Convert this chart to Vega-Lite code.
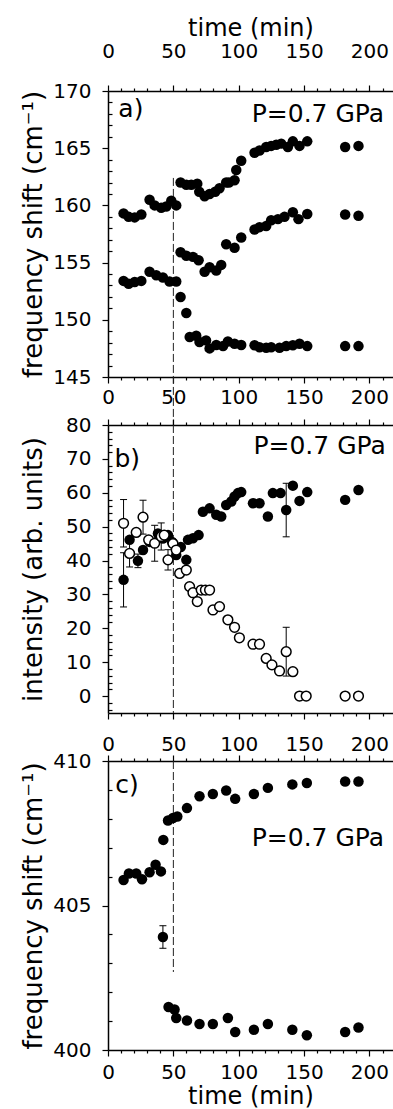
{
  "$schema": "https://vega.github.io/schema/vega-lite/v6.json",
  "padding": {"left": 19, "top": 16, "right": 0, "bottom": 0},
  "background": "white",
  "config": {
    "font": "DejaVu Sans",
    "view": {"stroke": null},
    "axis": {"domainColor": "black", "domainWidth": 1.5, "tickColor": "black", "tickWidth": 1.2, "labelColor": "black", "labelFont": "DejaVu Sans", "labelFontSize": 20, "titleFont": "DejaVu Sans", "titleFontSize": 24, "titleFontWeight": "normal", "titleColor": "black", "grid": false, "labelFlush": false, "labelOverlap": false},
    "text": {"font": "DejaVu Sans", "fontSize": 25, "color": "black"}
  },
  "datasets": {
    "pa": [
      {"s": "top", "t": 11.9, "v": 159.3}, {"s": "top", "t": 15.8, "v": 159.0}, {"s": "top", "t": 20.4, "v": 158.95}, {"s": "top", "t": 25.5, "v": 159.2},
      {"s": "top", "t": 31.8, "v": 160.5}, {"s": "top", "t": 35.7, "v": 160.0}, {"s": "top", "t": 40.7, "v": 159.8}, {"s": "top", "t": 44.5, "v": 159.9},
      {"s": "top", "t": 48.4, "v": 160.4}, {"s": "top", "t": 52.2, "v": 160.0}, {"s": "top", "t": 55.5, "v": 162.0}, {"s": "top", "t": 59.9, "v": 161.8},
      {"s": "top", "t": 63.7, "v": 161.8}, {"s": "top", "t": 68.3, "v": 161.9}, {"s": "top", "t": 69.8, "v": 161.2}, {"s": "top", "t": 73.9, "v": 160.8},
      {"s": "top", "t": 77.7, "v": 161.0}, {"s": "top", "t": 82.0, "v": 161.2}, {"s": "top", "t": 85.3, "v": 161.5}, {"s": "top", "t": 90.4, "v": 162.0},
      {"s": "top", "t": 92.5, "v": 162.0}, {"s": "top", "t": 96.8, "v": 162.2}, {"s": "top", "t": 98.1, "v": 163.1}, {"s": "top", "t": 101.9, "v": 163.9},
      {"s": "top", "t": 112.1, "v": 164.6}, {"s": "top", "t": 115.9, "v": 164.8}, {"s": "top", "t": 121.0, "v": 165.1}, {"s": "top", "t": 124.8, "v": 165.2},
      {"s": "top", "t": 128.7, "v": 165.3}, {"s": "top", "t": 132.5, "v": 165.4}, {"s": "top", "t": 137.6, "v": 165.1}, {"s": "top", "t": 141.4, "v": 165.6},
      {"s": "top", "t": 146.5, "v": 165.2}, {"s": "top", "t": 152.4, "v": 165.6}, {"s": "top", "t": 181.4, "v": 165.1}, {"s": "top", "t": 191.6, "v": 165.2},
      {"s": "mid", "t": 11.9, "v": 153.4}, {"s": "mid", "t": 15.8, "v": 153.15}, {"s": "mid", "t": 20.4, "v": 153.3}, {"s": "mid", "t": 25.5, "v": 153.4},
      {"s": "mid", "t": 31.8, "v": 154.2}, {"s": "mid", "t": 36.9, "v": 153.9}, {"s": "mid", "t": 42.0, "v": 153.7}, {"s": "mid", "t": 47.1, "v": 153.35},
      {"s": "mid", "t": 52.2, "v": 153.35}, {"s": "mid", "t": 55.5, "v": 155.9}, {"s": "mid", "t": 59.9, "v": 155.6}, {"s": "mid", "t": 65.0, "v": 155.5},
      {"s": "mid", "t": 69.3, "v": 155.2}, {"s": "mid", "t": 73.9, "v": 154.2}, {"s": "mid", "t": 77.7, "v": 154.6}, {"s": "mid", "t": 82.8, "v": 154.3},
      {"s": "mid", "t": 86.6, "v": 154.8}, {"s": "mid", "t": 90.4, "v": 156.6}, {"s": "mid", "t": 96.8, "v": 156.3}, {"s": "mid", "t": 101.9, "v": 157.2},
      {"s": "mid", "t": 112.1, "v": 157.9}, {"s": "mid", "t": 115.9, "v": 158.1}, {"s": "mid", "t": 121.0, "v": 158.2}, {"s": "mid", "t": 124.8, "v": 158.7},
      {"s": "mid", "t": 130.0, "v": 158.8}, {"s": "mid", "t": 135.0, "v": 159.0}, {"s": "mid", "t": 141.4, "v": 159.4}, {"s": "mid", "t": 145.7, "v": 158.8},
      {"s": "mid", "t": 152.4, "v": 159.25}, {"s": "mid", "t": 181.4, "v": 159.2}, {"s": "mid", "t": 191.6, "v": 159.1},
      {"s": "low", "t": 55.5, "v": 152.0}, {"s": "low", "t": 59.9, "v": 150.6}, {"s": "low", "t": 62.5, "v": 148.5}, {"s": "low", "t": 67.5, "v": 148.6},
      {"s": "low", "t": 70.0, "v": 148.05}, {"s": "low", "t": 75.0, "v": 148.2}, {"s": "low", "t": 77.7, "v": 147.5}, {"s": "low", "t": 82.8, "v": 147.8},
      {"s": "low", "t": 88.0, "v": 147.7}, {"s": "low", "t": 91.7, "v": 148.1}, {"s": "low", "t": 96.8, "v": 147.9}, {"s": "low", "t": 101.9, "v": 147.8},
      {"s": "low", "t": 112.1, "v": 147.77}, {"s": "low", "t": 115.9, "v": 147.6}, {"s": "low", "t": 121.0, "v": 147.55}, {"s": "low", "t": 124.8, "v": 147.6},
      {"s": "low", "t": 131.2, "v": 147.55}, {"s": "low", "t": 136.3, "v": 147.7}, {"s": "low", "t": 141.4, "v": 147.77}, {"s": "low", "t": 146.5, "v": 147.9},
      {"s": "low", "t": 152.4, "v": 147.7}, {"s": "low", "t": 181.4, "v": 147.7}, {"s": "low", "t": 191.6, "v": 147.7}
    ],
    "bf": [
      {"t": 11.9, "v": 34.3}, {"t": 16.5, "v": 46.1}, {"t": 22.9, "v": 39.9}, {"t": 26.8, "v": 43.1}, {"t": 31.8, "v": 45.5},
      {"t": 38.2, "v": 48.0}, {"t": 42.0, "v": 46.5}, {"t": 45.9, "v": 47.5}, {"t": 49.0, "v": 45.5}, {"t": 52.2, "v": 41.6},
      {"t": 55.7, "v": 44.0}, {"t": 59.9, "v": 40.2}, {"t": 61.2, "v": 46.1}, {"t": 65.0, "v": 46.6}, {"t": 69.3, "v": 47.5},
      {"t": 72.6, "v": 54.4}, {"t": 77.7, "v": 55.4}, {"t": 82.8, "v": 53.5}, {"t": 86.6, "v": 53.0}, {"t": 90.4, "v": 56.4},
      {"t": 94.3, "v": 57.4}, {"t": 96.8, "v": 58.9}, {"t": 99.4, "v": 59.9}, {"t": 101.9, "v": 60.2}, {"t": 110.9, "v": 56.9},
      {"t": 115.9, "v": 56.9}, {"t": 122.3, "v": 53.0}, {"t": 126.1, "v": 59.9}, {"t": 132.0, "v": 59.9}, {"t": 136.3, "v": 54.9},
      {"t": 141.4, "v": 62.1}, {"t": 146.5, "v": 57.6}, {"t": 152.4, "v": 60.2}, {"t": 181.4, "v": 57.9}, {"t": 191.6, "v": 60.8}
    ],
    "bo": [
      {"t": 11.9, "v": 51.0}, {"t": 16.5, "v": 42.1}, {"t": 21.6, "v": 48.3}, {"t": 26.8, "v": 52.8}, {"t": 31.1, "v": 46.1},
      {"t": 35.7, "v": 45.1}, {"t": 40.7, "v": 47.1}, {"t": 43.0, "v": 47.5}, {"t": 45.9, "v": 40.2}, {"t": 49.7, "v": 45.0},
      {"t": 52.2, "v": 43.1}, {"t": 54.8, "v": 36.2}, {"t": 59.9, "v": 37.2}, {"t": 62.4, "v": 32.3}, {"t": 65.0, "v": 30.5},
      {"t": 68.3, "v": 27.9}, {"t": 71.3, "v": 31.3}, {"t": 74.5, "v": 31.3}, {"t": 77.7, "v": 31.3}, {"t": 80.3, "v": 25.4},
      {"t": 85.3, "v": 26.4}, {"t": 91.7, "v": 22.5}, {"t": 96.8, "v": 20.3}, {"t": 100.5, "v": 17.2}, {"t": 110.9, "v": 15.3},
      {"t": 115.9, "v": 15.3}, {"t": 121.0, "v": 11.1}, {"t": 125.4, "v": 9.2}, {"t": 131.2, "v": 7.4}, {"t": 136.3, "v": 13.1},
      {"t": 141.4, "v": 7.2}, {"t": 146.5, "v": 0.0}, {"t": 151.6, "v": 0.0}, {"t": 181.4, "v": 0.0}, {"t": 191.6, "v": 0.0}
    ],
    "berr": [
      {"t": 11.9, "lo": 44.0, "hi": 58.0}, {"t": 11.9, "lo": 26.3, "hi": 42.3}, {"t": 16.5, "lo": 38.1, "hi": 46.1},
      {"t": 22.9, "lo": 37.9, "hi": 41.9}, {"t": 26.8, "lo": 47.8, "hi": 57.8}, {"t": 35.7, "lo": 39.8, "hi": 50.4},
      {"t": 40.7, "lo": 43.1, "hi": 51.1}, {"t": 45.9, "lo": 37.2, "hi": 43.2}, {"t": 136.3, "lo": 5.9, "hi": 20.3},
      {"t": 136.3, "lo": 47.0, "hi": 62.8}
    ],
    "cu": [
      {"t": 11.9, "v": 405.88}, {"t": 16.0, "v": 406.11}, {"t": 21.6, "v": 406.11}, {"t": 26.0, "v": 405.91}, {"t": 31.8, "v": 406.15},
      {"t": 36.4, "v": 406.41}, {"t": 40.5, "v": 406.18}, {"t": 42.3, "v": 407.27}, {"t": 45.9, "v": 407.94}, {"t": 49.7, "v": 408.03},
      {"t": 53.0, "v": 408.08}, {"t": 60.4, "v": 408.37}, {"t": 70.0, "v": 408.78}, {"t": 80.2, "v": 408.86}, {"t": 90.4, "v": 408.98},
      {"t": 97.3, "v": 408.69}, {"t": 111.6, "v": 408.86}, {"t": 122.3, "v": 409.07}, {"t": 141.0, "v": 409.19}, {"t": 152.1, "v": 409.24},
      {"t": 181.4, "v": 409.29}, {"t": 191.6, "v": 409.29},
      {"t": 42.0, "v": 403.91},
      {"t": 46.3, "v": 401.49}, {"t": 50.9, "v": 401.4}, {"t": 52.2, "v": 401.11}, {"t": 60.4, "v": 401.02}, {"t": 70.0, "v": 400.9},
      {"t": 80.2, "v": 400.9}, {"t": 91.7, "v": 401.11}, {"t": 97.3, "v": 400.62}, {"t": 111.6, "v": 400.7}, {"t": 122.3, "v": 400.9},
      {"t": 141.0, "v": 400.7}, {"t": 152.1, "v": 400.51}, {"t": 181.4, "v": 400.62}, {"t": 191.6, "v": 400.78}
    ],
    "cerr": [{"t": 42.0, "lo": 403.52, "hi": 404.3}]
  },
  "vconcat": [
    {
      "width": 285, "height": 286,
      "layer": [
        {
          "data": {"values": [{"t": 50, "y1": 162.4, "y2": 140.8}]},
          "mark": {"type": "rule", "strokeDash": [8, 3], "strokeWidth": 1, "color": "#222"},
          "encoding": {
            "x": {"field": "t", "type": "quantitative", "scale": {"domain": [0, 218], "nice": false, "zero": false},
              "axis": {"orient": "bottom", "values": [0,10,20,30,40,50,60,70,80,90,100,110,120,130,140,150,160,170,180,190,200,210], "labelExpr": "datum.value % 50 === 0 ? datum.label : ''", "labelOverlap": false, "tickSize": {"condition": {"test": "datum.value % 50 === 0", "value": 6}, "value": 3}, "labelPadding": 4, "title": null}},
            "y": {"field": "y1", "type": "quantitative", "scale": {"domain": [145, 170], "nice": false, "zero": false},
              "axis": {"orient": "left", "values": [145,146,147,148,149,150,151,152,153,154,155,156,157,158,159,160,161,162,163,164,165,166,167,168,169,170], "labelExpr": "datum.value % 5 === 0 ? datum.label : ''", "labelOverlap": false, "tickSize": {"condition": {"test": "datum.value % 5 === 0", "value": 6}, "value": -4}, "labelPadding": 11, "title": "frequency shift (cm⁻¹)", "titleFontSize": 26, "titleX": -62, "titleY": 143}},
            "y2": {"field": "y2"}
          }
        },
        {
          "data": {"name": "pa"},
          "mark": {"type": "point", "filled": true, "size": 110, "color": "black", "opacity": 1},
          "encoding": {
            "x": {"field": "t", "type": "quantitative", "scale": {"domain": [0, 218], "nice": false, "zero": false},
              "axis": {"orient": "top", "values": [0,10,20,30,40,50,60,70,80,90,100,110,120,130,140,150,160,170,180,190,200,210], "labelExpr": "datum.value % 50 === 0 ? datum.label : ''", "labelOverlap": false, "tickSize": {"condition": {"test": "datum.value % 50 === 0", "value": 6}, "value": 3}, "labelPadding": 24, "title": "time (min)", "titlePadding": 1}},
            "y": {"field": "v", "type": "quantitative", "scale": {"domain": [145, 170], "nice": false, "zero": false},
              "axis": {"orient": "left", "values": [145,146,147,148,149,150,151,152,153,154,155,156,157,158,159,160,161,162,163,164,165,166,167,168,169,170], "labelExpr": "datum.value % 5 === 0 ? datum.label : ''", "labelOverlap": false, "tickSize": {"condition": {"test": "datum.value % 5 === 0", "value": 6}, "value": -4}, "labelPadding": 11, "title": "frequency shift (cm⁻¹)", "titleFontSize": 26, "titleX": -62, "titleY": 143}}
          }
        },
        {
          "data": {"values": [{"t": 7.9, "v": 168.4, "label": "a)"}]},
          "mark": {"type": "text", "align": "left", "baseline": "middle"},
          "encoding": {
            "x": {"field": "t", "type": "quantitative", "scale": {"domain": [0, 218], "nice": false, "zero": false}, "axis": null},
            "y": {"field": "v", "type": "quantitative", "scale": {"domain": [145, 170], "nice": false, "zero": false},
              "axis": {"orient": "left", "values": [145,146,147,148,149,150,151,152,153,154,155,156,157,158,159,160,161,162,163,164,165,166,167,168,169,170], "labelExpr": "datum.value % 5 === 0 ? datum.label : ''", "labelOverlap": false, "tickSize": {"condition": {"test": "datum.value % 5 === 0", "value": 6}, "value": -4}, "labelPadding": 11, "title": "frequency shift (cm⁻¹)", "titleFontSize": 26, "titleX": -62, "titleY": 143}},
            "text": {"field": "label"}
          }
        },
        {
          "data": {"values": [{"t": 211.2, "v": 168.0, "label": "P=0.7 GPa"}]},
          "mark": {"type": "text", "align": "right", "baseline": "middle"},
          "encoding": {
            "x": {"field": "t", "type": "quantitative", "scale": {"domain": [0, 218], "nice": false, "zero": false}, "axis": null},
            "y": {"field": "v", "type": "quantitative", "scale": {"domain": [145, 170], "nice": false, "zero": false},
              "axis": {"orient": "left", "values": [145,146,147,148,149,150,151,152,153,154,155,156,157,158,159,160,161,162,163,164,165,166,167,168,169,170], "labelExpr": "datum.value % 5 === 0 ? datum.label : ''", "labelOverlap": false, "tickSize": {"condition": {"test": "datum.value % 5 === 0", "value": 6}, "value": -4}, "labelPadding": 11, "title": "frequency shift (cm⁻¹)", "titleFontSize": 26, "titleX": -62, "titleY": 143}},
            "text": {"field": "label"}
          }
        }
      ]
    },
    {
      "width": 285, "height": 288,
      "layer": [
        {
          "data": {"values": [{"t": 50, "y1": 80, "y2": -5}]},
          "mark": {"type": "rule", "strokeDash": [8, 3], "strokeWidth": 1, "color": "#222"},
          "encoding": {
            "x": {"field": "t", "type": "quantitative", "scale": {"domain": [0, 218], "nice": false, "zero": false},
              "axis": {"orient": "bottom", "values": [0,10,20,30,40,50,60,70,80,90,100,110,120,130,140,150,160,170,180,190,200,210], "labelExpr": "datum.value % 50 === 0 ? datum.label : ''", "labelOverlap": false, "tickSize": {"condition": {"test": "datum.value % 50 === 0", "value": 6}, "value": 3}, "labelPadding": 15, "title": null}},
            "y": {"field": "y1", "type": "quantitative", "scale": {"domain": [-5, 80], "nice": false, "zero": false},
              "axis": {"orient": "left", "values": [-4,-2,0,2,4,6,8,10,12,14,16,18,20,22,24,26,28,30,32,34,36,38,40,42,44,46,48,50,52,54,56,58,60,62,64,66,68,70,72,74,76,78,80], "labelExpr": "datum.value % 10 === 0 ? datum.label : ''", "labelOverlap": false, "tickSize": {"condition": {"test": "datum.value % 10 === 0", "value": 6}, "value": -4}, "labelPadding": 11, "title": "intensity (arb. units)", "titleFontSize": 26, "titleX": -62, "titleY": 144}},
            "y2": {"field": "y2"}
          }
        },
        {
          "data": {"name": "berr"},
          "mark": {"type": "rule", "strokeWidth": 1, "color": "black"},
          "encoding": {
            "x": {"field": "t", "type": "quantitative", "scale": {"domain": [0, 218], "nice": false, "zero": false}, "axis": null},
            "y": {"field": "lo", "type": "quantitative", "scale": {"domain": [-5, 80], "nice": false, "zero": false},
              "axis": {"orient": "left", "values": [-4,-2,0,2,4,6,8,10,12,14,16,18,20,22,24,26,28,30,32,34,36,38,40,42,44,46,48,50,52,54,56,58,60,62,64,66,68,70,72,74,76,78,80], "labelExpr": "datum.value % 10 === 0 ? datum.label : ''", "labelOverlap": false, "tickSize": {"condition": {"test": "datum.value % 10 === 0", "value": 6}, "value": -4}, "labelPadding": 11, "title": "intensity (arb. units)", "titleFontSize": 26, "titleX": -62, "titleY": 144}},
            "y2": {"field": "hi"}
          }
        },
        {
          "data": {"name": "berr"},
          "mark": {"type": "tick", "orient": "horizontal", "size": 7, "thickness": 1, "color": "black", "opacity": 1},
          "encoding": {
            "x": {"field": "t", "type": "quantitative", "scale": {"domain": [0, 218], "nice": false, "zero": false}, "axis": null},
            "y": {"field": "lo", "type": "quantitative", "scale": {"domain": [-5, 80], "nice": false, "zero": false},
              "axis": {"orient": "left", "values": [-4,-2,0,2,4,6,8,10,12,14,16,18,20,22,24,26,28,30,32,34,36,38,40,42,44,46,48,50,52,54,56,58,60,62,64,66,68,70,72,74,76,78,80], "labelExpr": "datum.value % 10 === 0 ? datum.label : ''", "labelOverlap": false, "tickSize": {"condition": {"test": "datum.value % 10 === 0", "value": 6}, "value": -4}, "labelPadding": 11, "title": "intensity (arb. units)", "titleFontSize": 26, "titleX": -62, "titleY": 144}}
          }
        },
        {
          "data": {"name": "berr"},
          "mark": {"type": "tick", "orient": "horizontal", "size": 7, "thickness": 1, "color": "black", "opacity": 1},
          "encoding": {
            "x": {"field": "t", "type": "quantitative", "scale": {"domain": [0, 218], "nice": false, "zero": false}, "axis": null},
            "y": {"field": "hi", "type": "quantitative", "scale": {"domain": [-5, 80], "nice": false, "zero": false},
              "axis": {"orient": "left", "values": [-4,-2,0,2,4,6,8,10,12,14,16,18,20,22,24,26,28,30,32,34,36,38,40,42,44,46,48,50,52,54,56,58,60,62,64,66,68,70,72,74,76,78,80], "labelExpr": "datum.value % 10 === 0 ? datum.label : ''", "labelOverlap": false, "tickSize": {"condition": {"test": "datum.value % 10 === 0", "value": 6}, "value": -4}, "labelPadding": 11, "title": "intensity (arb. units)", "titleFontSize": 26, "titleX": -62, "titleY": 144}}
          }
        },
        {
          "data": {"name": "bf"},
          "mark": {"type": "point", "filled": true, "size": 110, "color": "black", "opacity": 1},
          "encoding": {
            "x": {"field": "t", "type": "quantitative", "scale": {"domain": [0, 218], "nice": false, "zero": false},
              "axis": {"orient": "top", "values": [0,10,20,30,40,50,60,70,80,90,100,110,120,130,140,150,160,170,180,190,200,210], "labels": false, "tickSize": {"condition": {"test": "datum.value % 50 === 0", "value": 6}, "value": 3}, "title": null}},
            "y": {"field": "v", "type": "quantitative", "scale": {"domain": [-5, 80], "nice": false, "zero": false},
              "axis": {"orient": "left", "values": [-4,-2,0,2,4,6,8,10,12,14,16,18,20,22,24,26,28,30,32,34,36,38,40,42,44,46,48,50,52,54,56,58,60,62,64,66,68,70,72,74,76,78,80], "labelExpr": "datum.value % 10 === 0 ? datum.label : ''", "labelOverlap": false, "tickSize": {"condition": {"test": "datum.value % 10 === 0", "value": 6}, "value": -4}, "labelPadding": 11, "title": "intensity (arb. units)", "titleFontSize": 26, "titleX": -62, "titleY": 144}}
          }
        },
        {
          "data": {"name": "bo"},
          "mark": {"type": "point", "filled": true, "size": 95, "fill": "white", "stroke": "black", "strokeWidth": 1.5, "opacity": 1},
          "encoding": {
            "x": {"field": "t", "type": "quantitative", "scale": {"domain": [0, 218], "nice": false, "zero": false}, "axis": null},
            "y": {"field": "v", "type": "quantitative", "scale": {"domain": [-5, 80], "nice": false, "zero": false},
              "axis": {"orient": "left", "values": [-4,-2,0,2,4,6,8,10,12,14,16,18,20,22,24,26,28,30,32,34,36,38,40,42,44,46,48,50,52,54,56,58,60,62,64,66,68,70,72,74,76,78,80], "labelExpr": "datum.value % 10 === 0 ? datum.label : ''", "labelOverlap": false, "tickSize": {"condition": {"test": "datum.value % 10 === 0", "value": 6}, "value": -4}, "labelPadding": 11, "title": "intensity (arb. units)", "titleFontSize": 26, "titleX": -62, "titleY": 144}}
          }
        },
        {
          "data": {"values": [{"t": 4.9, "v": 69.9, "label": "b)"}]},
          "mark": {"type": "text", "align": "left", "baseline": "middle"},
          "encoding": {
            "x": {"field": "t", "type": "quantitative", "scale": {"domain": [0, 218], "nice": false, "zero": false}, "axis": null},
            "y": {"field": "v", "type": "quantitative", "scale": {"domain": [-5, 80], "nice": false, "zero": false},
              "axis": {"orient": "left", "values": [-4,-2,0,2,4,6,8,10,12,14,16,18,20,22,24,26,28,30,32,34,36,38,40,42,44,46,48,50,52,54,56,58,60,62,64,66,68,70,72,74,76,78,80], "labelExpr": "datum.value % 10 === 0 ? datum.label : ''", "labelOverlap": false, "tickSize": {"condition": {"test": "datum.value % 10 === 0", "value": 6}, "value": -4}, "labelPadding": 11, "title": "intensity (arb. units)", "titleFontSize": 26, "titleX": -62, "titleY": 144}},
            "text": {"field": "label"}
          }
        },
        {
          "data": {"values": [{"t": 212.5, "v": 73.7, "label": "P=0.7 GPa"}]},
          "mark": {"type": "text", "align": "right", "baseline": "middle"},
          "encoding": {
            "x": {"field": "t", "type": "quantitative", "scale": {"domain": [0, 218], "nice": false, "zero": false}, "axis": null},
            "y": {"field": "v", "type": "quantitative", "scale": {"domain": [-5, 80], "nice": false, "zero": false},
              "axis": {"orient": "left", "values": [-4,-2,0,2,4,6,8,10,12,14,16,18,20,22,24,26,28,30,32,34,36,38,40,42,44,46,48,50,52,54,56,58,60,62,64,66,68,70,72,74,76,78,80], "labelExpr": "datum.value % 10 === 0 ? datum.label : ''", "labelOverlap": false, "tickSize": {"condition": {"test": "datum.value % 10 === 0", "value": 6}, "value": -4}, "labelPadding": 11, "title": "intensity (arb. units)", "titleFontSize": 26, "titleX": -62, "titleY": 144}},
            "text": {"field": "label"}
          }
        }
      ],
      "resolve": {"axis": {"x": "independent"}}
    },
    {
      "width": 285, "height": 289,
      "layer": [
        {
          "data": {"values": [{"t": 50, "y1": 410, "y2": 402.7}]},
          "mark": {"type": "rule", "strokeDash": [8, 3], "strokeWidth": 1, "color": "#222"},
          "encoding": {
            "x": {"field": "t", "type": "quantitative", "scale": {"domain": [0, 218], "nice": false, "zero": false},
              "axis": {"orient": "bottom", "values": [0,10,20,30,40,50,60,70,80,90,100,110,120,130,140,150,160,170,180,190,200,210], "labelExpr": "datum.value % 50 === 0 ? datum.label : ''", "labelOverlap": false, "tickSize": {"condition": {"test": "datum.value % 50 === 0", "value": 6}, "value": 3}, "labelPadding": 6, "title": "time (min)", "titlePadding": 2}},
            "y": {"field": "y1", "type": "quantitative", "scale": {"domain": [400, 410], "nice": false, "zero": false},
              "axis": {"orient": "left", "values": [400,401,402,403,404,405,406,407,408,409,410], "labelExpr": "datum.value % 5 === 0 ? datum.label : ''", "labelOverlap": false, "tickSize": {"condition": {"test": "datum.value % 5 === 0", "value": 6}, "value": -4}, "labelPadding": 11, "title": "frequency shift (cm⁻¹)", "titleFontSize": 26, "titleX": -62, "titleY": 144.5}},
            "y2": {"field": "y2"}
          }
        },
        {
          "data": {"name": "cerr"},
          "mark": {"type": "rule", "strokeWidth": 1, "color": "black"},
          "encoding": {
            "x": {"field": "t", "type": "quantitative", "scale": {"domain": [0, 218], "nice": false, "zero": false}, "axis": null},
            "y": {"field": "lo", "type": "quantitative", "scale": {"domain": [400, 410], "nice": false, "zero": false},
              "axis": {"orient": "left", "values": [400,401,402,403,404,405,406,407,408,409,410], "labelExpr": "datum.value % 5 === 0 ? datum.label : ''", "labelOverlap": false, "tickSize": {"condition": {"test": "datum.value % 5 === 0", "value": 6}, "value": -4}, "labelPadding": 11, "title": "frequency shift (cm⁻¹)", "titleFontSize": 26, "titleX": -62, "titleY": 144.5}},
            "y2": {"field": "hi"}
          }
        },
        {
          "data": {"name": "cerr"},
          "mark": {"type": "tick", "orient": "horizontal", "size": 7, "thickness": 1, "color": "black", "opacity": 1},
          "encoding": {
            "x": {"field": "t", "type": "quantitative", "scale": {"domain": [0, 218], "nice": false, "zero": false}, "axis": null},
            "y": {"field": "lo", "type": "quantitative", "scale": {"domain": [400, 410], "nice": false, "zero": false},
              "axis": {"orient": "left", "values": [400,401,402,403,404,405,406,407,408,409,410], "labelExpr": "datum.value % 5 === 0 ? datum.label : ''", "labelOverlap": false, "tickSize": {"condition": {"test": "datum.value % 5 === 0", "value": 6}, "value": -4}, "labelPadding": 11, "title": "frequency shift (cm⁻¹)", "titleFontSize": 26, "titleX": -62, "titleY": 144.5}}
          }
        },
        {
          "data": {"name": "cerr"},
          "mark": {"type": "tick", "orient": "horizontal", "size": 7, "thickness": 1, "color": "black", "opacity": 1},
          "encoding": {
            "x": {"field": "t", "type": "quantitative", "scale": {"domain": [0, 218], "nice": false, "zero": false}, "axis": null},
            "y": {"field": "hi", "type": "quantitative", "scale": {"domain": [400, 410], "nice": false, "zero": false},
              "axis": {"orient": "left", "values": [400,401,402,403,404,405,406,407,408,409,410], "labelExpr": "datum.value % 5 === 0 ? datum.label : ''", "labelOverlap": false, "tickSize": {"condition": {"test": "datum.value % 5 === 0", "value": 6}, "value": -4}, "labelPadding": 11, "title": "frequency shift (cm⁻¹)", "titleFontSize": 26, "titleX": -62, "titleY": 144.5}}
          }
        },
        {
          "data": {"name": "cu"},
          "mark": {"type": "point", "filled": true, "size": 110, "color": "black", "opacity": 1},
          "encoding": {
            "x": {"field": "t", "type": "quantitative", "scale": {"domain": [0, 218], "nice": false, "zero": false},
              "axis": {"orient": "top", "values": [0,10,20,30,40,50,60,70,80,90,100,110,120,130,140,150,160,170,180,190,200,210], "labels": false, "tickSize": {"condition": {"test": "datum.value % 50 === 0", "value": 6}, "value": 3}, "title": null}},
            "y": {"field": "v", "type": "quantitative", "scale": {"domain": [400, 410], "nice": false, "zero": false},
              "axis": {"orient": "left", "values": [400,401,402,403,404,405,406,407,408,409,410], "labelExpr": "datum.value % 5 === 0 ? datum.label : ''", "labelOverlap": false, "tickSize": {"condition": {"test": "datum.value % 5 === 0", "value": 6}, "value": -4}, "labelPadding": 11, "title": "frequency shift (cm⁻¹)", "titleFontSize": 26, "titleX": -62, "titleY": 144.5}}
          }
        },
        {
          "data": {"values": [{"t": 5.6, "v": 409.16, "label": "c)"}]},
          "mark": {"type": "text", "align": "left", "baseline": "middle"},
          "encoding": {
            "x": {"field": "t", "type": "quantitative", "scale": {"domain": [0, 218], "nice": false, "zero": false}, "axis": null},
            "y": {"field": "v", "type": "quantitative", "scale": {"domain": [400, 410], "nice": false, "zero": false},
              "axis": {"orient": "left", "values": [400,401,402,403,404,405,406,407,408,409,410], "labelExpr": "datum.value % 5 === 0 ? datum.label : ''", "labelOverlap": false, "tickSize": {"condition": {"test": "datum.value % 5 === 0", "value": 6}, "value": -4}, "labelPadding": 11, "title": "frequency shift (cm⁻¹)", "titleFontSize": 26, "titleX": -62, "titleY": 144.5}},
            "text": {"field": "label"}
          }
        },
        {
          "data": {"values": [{"t": 211.2, "v": 407.35, "label": "P=0.7 GPa"}]},
          "mark": {"type": "text", "align": "right", "baseline": "middle"},
          "encoding": {
            "x": {"field": "t", "type": "quantitative", "scale": {"domain": [0, 218], "nice": false, "zero": false}, "axis": null},
            "y": {"field": "v", "type": "quantitative", "scale": {"domain": [400, 410], "nice": false, "zero": false},
              "axis": {"orient": "left", "values": [400,401,402,403,404,405,406,407,408,409,410], "labelExpr": "datum.value % 5 === 0 ? datum.label : ''", "labelOverlap": false, "tickSize": {"condition": {"test": "datum.value % 5 === 0", "value": 6}, "value": -4}, "labelPadding": 11, "title": "frequency shift (cm⁻¹)", "titleFontSize": 26, "titleX": -62, "titleY": 144.5}},
            "text": {"field": "label"}
          }
        }
      ],
      "resolve": {"axis": {"x": "independent"}}
    }
  ],
  "spacing": 48,
  "bounds": "flush"
}
